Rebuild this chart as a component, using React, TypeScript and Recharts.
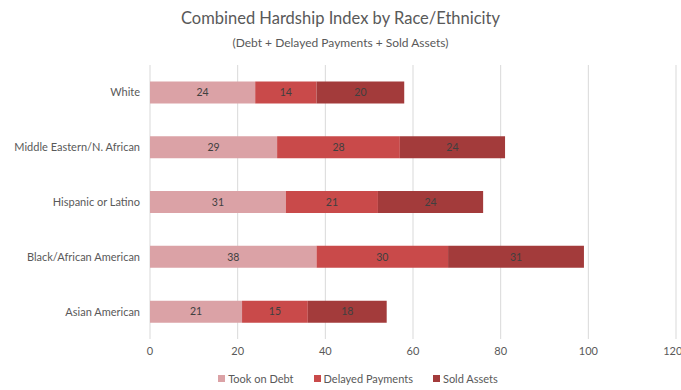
import React from "react";
import {
  BarChart,
  Bar,
  XAxis,
  YAxis,
  CartesianGrid,
  Legend,
  LabelList
} from "recharts";

const categories = [
  "White",
  "Middle Eastern/N. African",
  "Hispanic or Latino",
  "Black/African American",
  "Asian American"
];
const tookOnDebt = [24, 29, 31, 38, 21];
const delayedPayments = [14, 28, 21, 30, 15];
const soldAssets = [20, 24, 24, 31, 18];
const xTicks = [0, 20, 40, 60, 80, 100, 120];

const FONT = "Lato, 'Open Sans', sans-serif";
const TEXT = "#595959";

const data = categories.map((name, i) => ({
  name,
  debt: tookOnDebt[i],
  delayed: delayedPayments[i],
  sold: soldAssets[i]
}));

const series = [
  { key: "debt", label: "Took on Debt", color: "#dba2a6" },
  { key: "delayed", label: "Delayed Payments", color: "#c94a4a" },
  { key: "sold", label: "Sold Assets", color: "#a33b3b" }
];

// single-line category labels, right-aligned against the plot
function CategoryTick(props: any) {
  const { x, y, payload } = props;
  return (
    <text
      x={x}
      y={y}
      dy={4}
      textAnchor="end"
      fill={TEXT}
      fontSize={11}
      fontFamily={FONT}
    >
      {payload.value}
    </text>
  );
}

function LegendRow() {
  return (
    <div
      style={{
        display: "flex",
        justifyContent: "center",
        gap: 20,
        paddingLeft: 40,
        paddingTop: 13,
        fontSize: 11,
        fontFamily: FONT,
        color: TEXT
      }}
    >
      {series.map((s) => (
        <span key={s.key} style={{ display: "flex", alignItems: "center" }}>
          <span
            style={{
              width: 7,
              height: 7,
              background: s.color,
              marginRight: 3,
              display: "inline-block"
            }}
          />
          {s.label}
        </span>
      ))}
    </div>
  );
}

export default function App() {
  return (
    <div
      style={{
        position: "absolute",
        left: 0,
        top: 0,
        width: 681,
        height: 390,
        background: "#fff",
        fontFamily: FONT
      }}
    >
      <div
        style={{
          position: "absolute",
          top: 8,
          width: "100%",
          textAlign: "center",
          fontSize: 16.5,
          color: TEXT
        }}
      >
        Combined Hardship Index by Race/Ethnicity
      </div>
      <div
        style={{
          position: "absolute",
          top: 35,
          width: "100%",
          textAlign: "center",
          fontSize: 12,
          color: TEXT
        }}
      >
        (Debt + Delayed Payments + Sold Assets)
      </div>
      <BarChart
        width={681}
        height={390}
        data={data}
        layout="vertical"
        barCategoryGap="30%"
        margin={{ top: 65, right: 5, bottom: 7, left: 0 }}
      >
        <CartesianGrid horizontal={false} stroke="#d9d9d9" />
        <XAxis
          type="number"
          domain={[0, 120]}
          ticks={xTicks}
          axisLine={false}
          tickLine={false}
          tick={{ fill: TEXT, fontSize: 11, fontFamily: FONT }}
          height={20}
        />
        <YAxis
          type="category"
          dataKey="name"
          width={150}
          axisLine={false}
          tickLine={false}
          tickMargin={4}
          tick={<CategoryTick />}
        />
        <Legend
          verticalAlign="bottom"
          height={24}
          content={() => <LegendRow />}
        />
        {series.map((s) => (
          <Bar
            key={s.key}
            dataKey={s.key}
            name={s.label}
            stackId="a"
            fill={s.color}
            isAnimationActive={false}
          >
            <LabelList
              dataKey={s.key}
              position="center"
              fill="#404040"
              fontSize={10.5}
              fontFamily={FONT}
            />
          </Bar>
        ))}
      </BarChart>
    </div>
  );
}
